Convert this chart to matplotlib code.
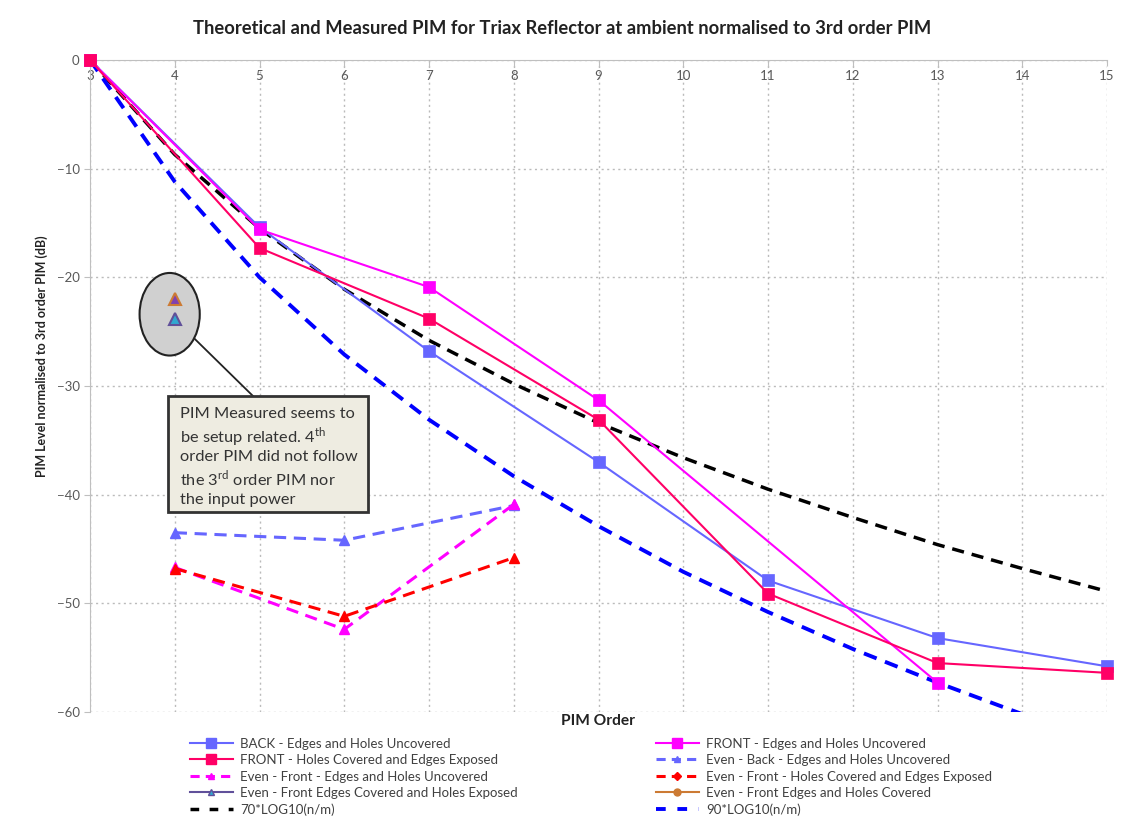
import matplotlib
matplotlib.use("Agg")
import matplotlib.pyplot as plt
from matplotlib.lines import Line2D
from matplotlib.patches import Ellipse, Rectangle

plt.rcParams['font.family'] = ['Lato', 'DejaVu Sans']
plt.rcParams['mathtext.fontset'] = 'custom'
plt.rcParams['mathtext.rm'] = 'Lato'
plt.rcParams['mathtext.bf'] = 'Lato:bold'

# PIM order (category axis)
orders = [3, 4, 5, 6, 7, 8, 9, 10, 11, 12, 13, 14, 15]

# measured, odd orders
back_x = [3, 5, 7, 9, 11, 13, 15]
back_y = [0, -15.4, -26.8, -37.0, -47.9, -53.2, -55.8]
front_hc_x = [3, 5, 7, 9, 11, 13, 15]
front_hc_y = [0, -17.3, -23.8, -33.1, -49.1, -55.5, -56.4]
front_unc_x = [3, 5, 7, 9, 13]
front_unc_y = [0, -15.6, -20.9, -31.3, -57.3]

# measured, even orders
even_x = [4, 6, 8]
even_back_y = [-43.5, -44.2, -41.0]
even_front_unc_y = [-46.7, -52.4, -40.9]
even_front_hc_y = [-46.8, -51.2, -45.8]
even_edges_cov_y = [-23.8]
even_all_cov_y = [-22.0]

# theoretical curves
theory70 = [0, -8.7, -15.5, -21.1, -25.8, -29.8, -33.4, -36.6, -39.5, -42.1, -44.6, -46.8, -48.9]
theory90 = [0, -11.2, -20.0, -27.1, -33.1, -38.3, -42.9, -47.1, -50.8, -54.2, -57.3, -60.2, -62.9]

fig = plt.figure(figsize=(11.25, 8.16), dpi=100)
ax = fig.add_axes([0.08, 0.1275, 0.904, 0.799])

ax.set_xlim(3, 15)
ax.set_ylim(-60, 0)
ax.set_xticks(orders)
ax.set_yticks(range(-60, 1, 10))
ax.grid(True, color='#bbbbbb', linestyle=(0, (1.5, 2.5)), linewidth=1)
ax.set_axisbelow(True)
for s in ['top', 'right']:
    ax.spines[s].set_visible(False)
ax.spines['bottom'].set_position(('data', 0))
ax.spines['bottom'].set_color('#bfbfbf')
ax.spines['left'].set_color('#bfbfbf')
ax.spines['bottom'].set_zorder(1)
ax.tick_params(axis='both', colors='#bfbfbf', labelcolor='#595959', labelsize=9.5, length=4)
ax.tick_params(axis='x', pad=3)

# annotation ellipse behind the 4th-order points
ax.add_patch(Ellipse((3.94, -23.4), width=0.71, height=7.6, facecolor='#d0d0d0',
                     edgecolor='#222222', linewidth=1.5, zorder=2))

# theoretical
ax.plot(orders, theory70, color='black', lw=2.5, dashes=(3.5, 2.3), zorder=3)
ax.plot(orders, theory90, color='#0000ff', lw=2.8, dashes=(3.5, 2.3), zorder=3)

# measured
sq = dict(marker='s', ms=8.5, mew=0.5, clip_on=False)
ax.plot(back_x, back_y, color='#6666ff', lw=1.5, zorder=4, **sq)
ax.plot(front_unc_x, front_unc_y, color='#ff00ff', lw=1.5, zorder=4, **sq)
ax.plot(front_hc_x, front_hc_y, color='#ff0066', lw=1.5, zorder=5, **sq)

ax.plot(even_x, even_back_y, color='#6666ff', lw=2.2, dashes=(4, 2.5), marker='^', ms=7, zorder=4)
ax.plot(even_x, even_front_unc_y, color='#ff00ff', lw=2.2, dashes=(4, 2.5), marker='^', ms=7, zorder=4)
ax.plot(even_x, even_front_hc_y, color='#ff0000', lw=2.2, dashes=(4, 2.5), marker='^', ms=7, zorder=4)
ax.plot([4], even_all_cov_y, color='#cc7a33', marker='^', ms=8, mfc='#8040b0', mec='#cc7a33', mew=1.5, zorder=5)
ax.plot([4], even_edges_cov_y, color='#60509a', marker='^', ms=8, mfc='#30a8d0', mec='#60509a', mew=1.5, zorder=5)

# callout
ax.plot([4.24, 4.92], [-25.7, -30.9], color='#222222', lw=1.3, zorder=6)
fig.patches.append(Rectangle((168 / 1125, 1 - 512 / 816), 200 / 1125, 116 / 816,
                             transform=fig.transFigure, facecolor='#eeece1',
                             edgecolor='#333333', linewidth=2, zorder=6))
note_lines = ['PIM Measured seems to',
              'be setup related. 4$^{\\mathrm{th}}$',
              'order PIM did not follow',
              'the 3$^{\\mathrm{rd}}$ order PIM nor',
              'the input power']
for i, line in enumerate(note_lines):
    fig.text(180 / 1125, 1 - (413 + 21.3 * i) / 816, line, fontsize=11.8, color='#333333',
             va='center_baseline', ha='left', zorder=7)

fig.text(0.5, 1 - 28 / 816,
         'Theoretical and Measured PIM for Triax Reflector at ambient normalised to 3rd order PIM',
         ha='center', va='center', fontsize=13.2, fontweight='bold', color='#222222')
fig.text(598 / 1125, 1 - 721 / 816, 'PIM Order', ha='center', va='center',
         fontsize=11.2, fontweight='bold', color='#222222')
fig.text(42 / 1125, 1 - 356 / 816, 'PIM Level normalised to 3rd order PIM (dB)',
         ha='center', va='center', rotation=90, fontsize=9, fontweight='bold', color='#222222')

# legend, two columns placed separately
left_handles = [
    Line2D([], [], color='#6666ff', lw=1.5, marker='s', ms=7),
    Line2D([], [], color='#ff0066', lw=1.5, marker='s', ms=7),
    Line2D([], [], color='#ff00ff', lw=2.2, dashes=(3, 2), marker='^', ms=5),
    Line2D([], [], color='#60509a', lw=1.5, marker='^', ms=5, mfc='#30a8d0'),
    Line2D([], [], color='black', lw=2.5, dashes=(2.5, 3)),
]
left_labels = [
    'BACK - Edges and Holes Uncovered',
    'FRONT - Holes Covered and Edges Exposed',
    'Even - Front - Edges and Holes Uncovered',
    'Even - Front Edges Covered and Holes Exposed',
    '70*LOG10(n/m)',
]
right_handles = [
    Line2D([], [], color='#ff00ff', lw=1.5, marker='s', ms=7),
    Line2D([], [], color='#6666ff', lw=2.2, dashes=(3, 2), marker='^', ms=5),
    Line2D([], [], color='#ff0000', lw=2.2, dashes=(3, 2), marker='D', ms=4.5),
    Line2D([], [], color='#cc7a33', lw=1.5, marker='o', ms=5),
    Line2D([], [], color='#0000ff', lw=2.8, dashes=(2.5, 3)),
]
right_labels = [
    'FRONT - Edges and Holes Uncovered',
    'Even - Back - Edges and Holes Uncovered',
    'Even - Front - Holes Covered and Edges Exposed',
    'Even - Front Edges and Holes Covered',
    '90*LOG10(n/m)',
]
leg_kw = dict(loc='upper left', frameon=False, fontsize=9.5, labelcolor='#404040',
              handlelength=3.3, handletextpad=0.55, labelspacing=0.34, borderpad=0)
fig.legend(left_handles, left_labels, bbox_to_anchor=(183 / 1125, 1 - 731 / 816), **leg_kw)
fig.legend(right_handles, right_labels, bbox_to_anchor=(649 / 1125, 1 - 731 / 816), **leg_kw)

fig.savefig('out.png', dpi=100)
